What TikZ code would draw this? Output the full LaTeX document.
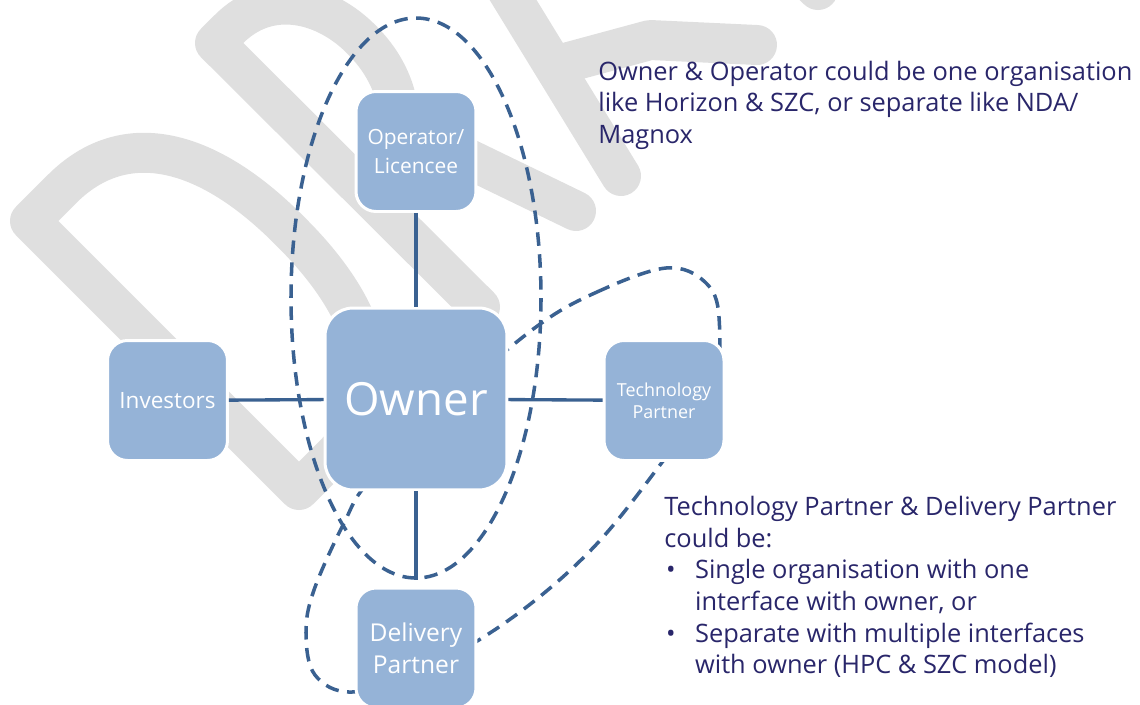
\documentclass[tikz,border=0pt]{standalone}
\usepackage{fontspec}
\setmainfont{Open Sans}
\usepackage{tikz}
\definecolor{boxblue}{HTML}{95B3D7}
\definecolor{lineblue}{HTML}{3A6191}
\definecolor{notenavy}{HTML}{29266A}
\definecolor{wmgray}{HTML}{DFDFDF}

\begin{document}
\begin{tikzpicture}[x=0.02cm, y=-0.02cm,
  orgbox/.style={draw=white, line width=1.7pt, fill=boxblue, rounded corners=0.4cm,
    minimum width=2.4cm, minimum height=2.4cm, inner sep=0pt, align=center, text=white},
  link/.style={lineblue, line width=1.9pt},
  grp/.style={lineblue, line width=2pt, dash pattern=on 0.27cm off 0.17cm},
  wm/.style={wmgray, line width=0.8cm, line join=round, line cap=round},
  note/.style={anchor=north west, inner sep=0pt, align=left, text=notenavy,
    font=\fontsize{14.45}{17.8}\selectfont}]
  \useasboundingbox (0,0) rectangle (1140,704);
  \clip (0,0) rectangle (1140,704);

  % 透かし (DRAFT)
  \draw[wm] (299,490) -- (30,221) -- (62,189) .. controls (126,125) and (210,150) .. (290,231)
    .. controls (372,312) and (395,395) .. (331,458) -- cycle;
  \draw[wm] (480,307) -- (215,43) -- (228,30) .. controls (270,-13) and (327,4) .. (362,40)
    .. controls (411,89) and (406,151) .. (378,180) -- (365,192);
  \draw[wm] (417,134) -- (576,211);
  \draw[wm] (621,176) -- (480,-54);
  \draw[wm] (565,63) -- (650,40) -- (757,45);
  \draw[wm] (818,-10) -- (700,-128);

  % 破線のグループ
  \draw[grp] (416,298) ellipse [x radius=125, y radius=280];
  \draw[grp] plot[smooth cycle, tension=0.6] coordinates {(536,327) (597,292) (666,268)
    (705,282) (719,317) (712,390) (660,465) (591,550) (509,620) (420,672) (352,692)
    (315,675) (306,633) (314,590) (344,523) (370,480) (450,400)};

  % 組織
  \node[orgbox, font=\fontsize{26}{30}\selectfont, minimum width=3.64cm, minimum height=3.64cm,
    rounded corners=0.56cm] (owner) at (416,399) {Owner};
  \node[orgbox, font=\fontsize{11.9}{16.4}\selectfont] (operator) at (416,151.5) {Operator/\\Licencee};
  \node[orgbox, font=\fontsize{12.8}{16}\selectfont] (investors) at (167.5,400.5) {Investors};
  \node[orgbox, font=\fontsize{10.2}{12.5}\selectfont] (techpartner) at (664,400.5) {Technology\\Partner};
  \node[orgbox, font=\fontsize{14}{18.1}\selectfont] (delivery) at (416,648) {Delivery\\Partner};

  \draw[link] (operator) -- (owner);
  \draw[link] (investors) -- (owner);
  \draw[link] (owner) -- (techpartner);
  \draw[link, shorten >=4pt] (owner) -- (delivery);

  % 注記
  \node[note] (notea) at (598,61) {Owner \& Operator could be one organisation\\
    like Horizon \& SZC, or separate like NDA/\\Magnox};
  \node[note, font=\fontsize{14.45}{18}\selectfont] (noteb) at (664,496) {Technology Partner \& Delivery Partner\\could be:\\
    \makebox[17.5pt][l]{\hspace{1pt}\textbullet}Single organisation with one\\
    \hspace*{17.5pt}interface with owner, or\\
    \makebox[17.5pt][l]{\hspace{1pt}\textbullet}Separate with multiple interfaces\\
    \hspace*{17.5pt}with owner (HPC \& SZC model)};
\end{tikzpicture}
\end{document}
